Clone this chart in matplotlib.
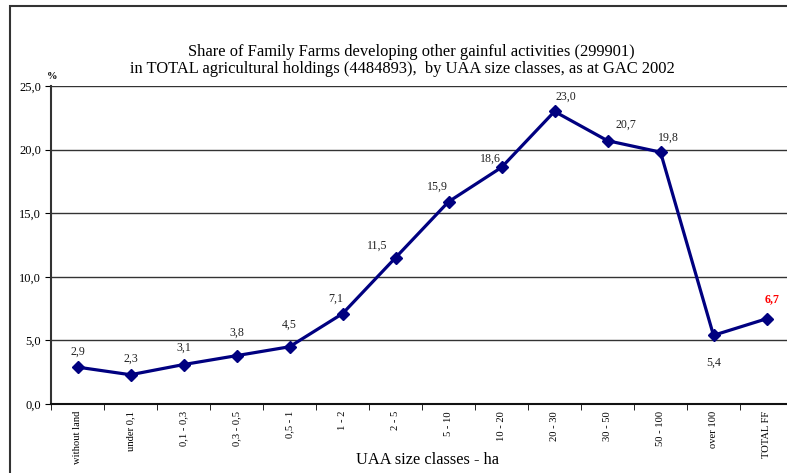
import matplotlib.pyplot as plt
from matplotlib.patches import Rectangle
from matplotlib.ticker import FixedLocator, FuncFormatter
import numpy as np

categories = ['without land', 'under 0,1', '0,1 - 0,3', '0,3 - 0,5', '0,5 - 1', '1 - 2', '2 - 5',
              '5 - 10', '10 - 20', '20 - 30', '30 - 50', '50 - 100', 'over 100', 'TOTAL FF']
share = [2.9, 2.3, 3.1, 3.8, 4.5, 7.1, 11.5, 15.9, 18.6, 23.0, 20.7, 19.8, 5.4, 6.7]
y_ticks = [0, 5, 10, 15, 20, 25]

# label offsets in pixels (dx, dy) from each point
label_off = [(0, 15), (0, 16), (0, 17), (0, 23), (0, 22), (-7, 15), (-18, 12),
             (-11, 15), (-11, 9), (11, 15), (18, 16), (8, 14), (0, -27), (6, 20)]

plt.rcParams['font.family'] = ['Liberation Serif', 'DejaVu Serif']

fig = plt.figure(figsize=(7.87, 4.73), dpi=100)
fig.patches.append(Rectangle((10/787, -0.1), 1.2, 1 - 6/473 + 0.1, transform=fig.transFigure,
                             fill=False, edgecolor='#333333', linewidth=1.5))

ax = fig.add_axes([51/787, 69/473, 742/787, 318/473])
x = np.arange(len(categories))
ax.plot(x, share, color='#000080', linewidth=2.3, marker='D', markersize=6)

for i, v in enumerate(share):
    dx, dy = label_off[i]
    last = i == len(share) - 1
    ax.annotate('{:.1f}'.format(v).replace('.', ','), (x[i], v), xytext=(dx, dy),
                textcoords='offset pixels', ha='center', va='center', fontsize=8.6,
                color='red' if last else '#222222', fontweight='bold' if last else 'normal')

ax.set_xlim(-0.5, len(categories) - 0.5)
ax.set_ylim(0, 25)
ax.yaxis.set_major_locator(FixedLocator(y_ticks))
ax.yaxis.set_major_formatter(FuncFormatter(lambda v, p: '{:.1f}'.format(v).replace('.', ',')))
ax.grid(axis='y', color='#333333', linewidth=1)
ax.set_axisbelow(True)

ax.set_xticks(x)
ax.set_xticklabels(categories, rotation=90, fontsize=7.6, va='top')
ax.tick_params(axis='x', which='major', length=0, pad=5)
ax.set_xticks(np.arange(-0.5, len(categories)), minor=True)
ax.tick_params(axis='x', which='minor', length=4, direction='out')
ax.tick_params(axis='y', labelsize=9, length=4, direction='out', pad=3)

for s in ['top', 'right']:
    ax.spines[s].set_visible(False)
ax.spines['left'].set_color('#333333')
ax.spines['bottom'].set_color('#111111')
ax.spines['left'].set_linewidth(1.5)
ax.spines['bottom'].set_linewidth(1.5)

fig.text(411/787, 1 - 52/473, 'Share of Family Farms developing other gainful activities (299901)',
         ha='center', va='center', fontsize=11.9)
fig.text(402/787, 1 - 69/473, 'in TOTAL agricultural holdings (4484893),  by UAA size classes, as at GAC 2002',
         ha='center', va='center', fontsize=11.9)
fig.text(52/787, 1 - 76/473, '%', ha='center', va='center', fontsize=7.5, fontweight='bold')
fig.text(428/787, 1 - 460/473, 'UAA size classes - ha', ha='center', va='center', fontsize=11.8)

fig.savefig('out.png', dpi=100)
